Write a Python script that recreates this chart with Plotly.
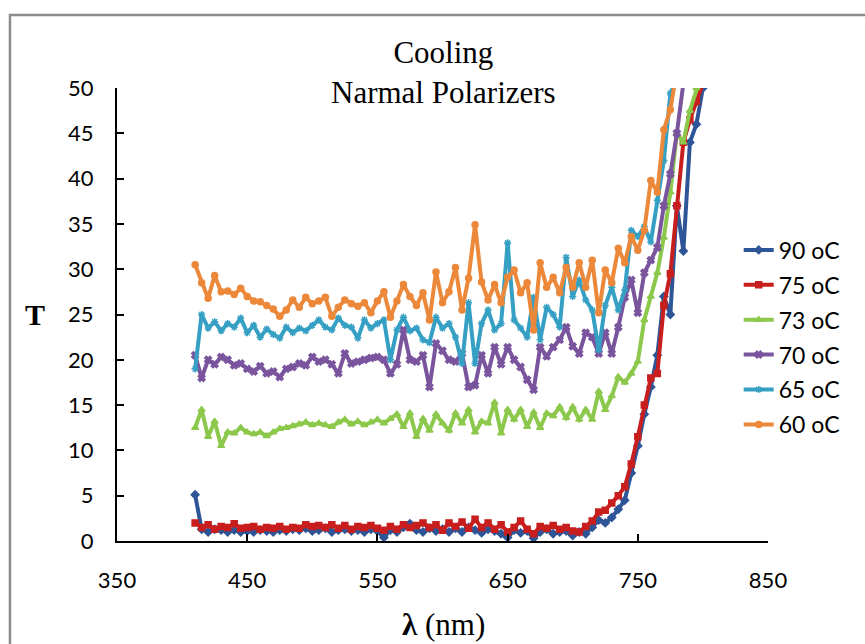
import plotly.graph_objects as go

wavelength = [410, 415, 420, 425, 430, 435, 440, 445, 450, 455, 460, 465, 470, 475, 480, 485, 490, 495,
              500, 505, 510, 515, 520, 525, 530, 535, 540, 545, 550, 555, 560, 565, 570, 575, 580, 585,
              590, 595, 600, 605, 610, 615, 620, 625, 630, 635, 640, 645, 650, 655, 660, 665, 670, 675,
              680, 685, 690, 695, 700, 705, 710, 715, 720, 725, 730, 735, 740, 745, 750, 755, 760, 765,
              770, 775, 780, 785, 790, 795, 800]

t90 = [5.1, 1.3, 1.0, 1.3, 1.2, 1.0, 1.2, 1.0, 1.1, 1.0, 1.2, 1.1, 1.0, 1.2, 1.1, 1.3, 1.2, 1.4,
       1.1, 1.2, 1.4, 1.0, 1.2, 1.3, 1.1, 1.2, 1.0, 1.3, 1.1, 0.4, 1.2, 1.0, 1.5, 1.9, 1.2, 1.0,
       1.4, 1.1, 1.3, 1.0, 1.4, 1.0, 1.5, 1.2, 0.9, 1.3, 1.1, 0.8, 0.4, 1.2, 0.9, 1.1, 0.3, 1.0,
       1.3, 0.8, 1.0, 1.1, 0.6, 1.0, 0.8, 1.5, 2.3, 2.0, 2.6, 3.5, 4.5, 7.5, 10.5, 14.0, 17.0, 20.5,
       27.0, 25.0, 37.0, 32.0, 44.0, 46.0, 50.0]

t75 = [2.0, 1.5, 1.8, 1.3, 1.6, 1.5, 1.9, 1.4, 1.5, 1.6, 1.3, 1.5, 1.4, 1.6, 1.3, 1.5, 1.4, 1.8,
       1.6, 1.7, 1.5, 1.8, 1.4, 1.7, 1.3, 1.6, 1.5, 1.7, 1.4, 1.2, 1.6, 1.3, 1.8, 1.5, 1.7, 2.0,
       1.5, 1.8, 1.2, 2.0, 1.6, 2.1, 1.4, 2.4, 1.5, 2.0, 1.3, 1.8, 1.0, 1.5, 2.2, 1.3, 0.8, 1.6,
       1.4, 1.7, 1.3, 1.5, 1.1, 1.0, 1.6, 2.2, 3.2, 3.4, 4.2, 5.0, 6.0, 8.5, 11.5, 15.0, 18.0, 18.5,
       26.0, 29.5, 37.0, 44.0, 46.5, 48.5, 50.5]

t73 = [12.5, 14.5, 11.5, 13.2, 10.5, 12.0, 11.9, 12.5, 12.0, 11.8, 12.0, 11.6, 12.0, 12.4, 12.5, 12.7, 12.9, 13.1,
       12.8, 13.0, 12.8, 12.6, 13.1, 13.4, 12.9, 13.2, 12.8, 13.1, 13.4, 13.0, 13.5, 14.0, 12.6, 14.1, 11.5, 13.5,
       12.2, 14.0, 13.0, 12.2, 14.1, 13.0, 14.5, 12.0, 13.2, 13.0, 15.3, 11.9, 14.5, 13.4, 14.5, 12.6, 14.2, 12.5,
       14.1, 13.8, 14.8, 13.6, 14.8, 13.4, 14.5, 13.4, 16.5, 14.5, 16.0, 18.1, 17.5, 18.5, 19.8, 24.4, 27.0, 29.6,
       33.5, 38.5, 45.0, 44.0, 47.5, 50.0, 52.0]

t70 = [20.5, 18.0, 20.0, 19.5, 20.3, 20.0, 19.4, 19.6, 19.0, 18.7, 19.3, 18.5, 18.7, 18.1, 19.0, 19.2, 19.6, 19.4,
       20.3, 19.8, 20.0, 19.5, 18.5, 20.7, 19.6, 19.8, 20.0, 20.2, 20.3, 20.0, 18.5, 19.5, 23.3, 20.0, 19.8, 20.5,
       17.0, 21.8, 21.0, 20.0, 19.8, 20.7, 17.0, 17.2, 20.5, 18.5, 21.4, 19.5, 21.4, 20.0, 19.2, 17.8, 16.7, 21.4,
       20.4, 21.4, 22.2, 23.6, 21.5, 20.7, 23.0, 22.5, 20.7, 23.0, 20.7, 23.6, 26.9, 28.8, 25.2, 29.6, 31.0, 32.4,
       37.0, 40.5, 45.0, 50.5]

t65 = [19.0, 25.0, 23.5, 24.2, 23.2, 24.0, 23.6, 24.6, 23.0, 23.8, 22.5, 23.4, 22.8, 22.4, 23.6, 23.0, 23.5, 23.2,
       23.8, 24.4, 23.6, 23.3, 24.6, 23.8, 23.6, 22.4, 24.4, 23.5, 24.0, 24.4, 20.0, 23.3, 24.7, 23.2, 23.5, 22.2,
       21.9, 24.7, 23.5, 24.0, 22.5, 19.6, 26.3, 19.6, 24.0, 25.5, 23.3, 24.0, 32.9, 24.4, 23.5, 22.5, 26.9, 22.2,
       25.8, 25.0, 23.6, 31.3, 27.0, 28.8, 26.6, 25.5, 21.1, 26.0, 28.0, 25.5, 27.7, 34.3, 33.6, 34.7, 33.0, 37.6,
       42.0, 49.4, 51.0]

t60 = [30.5, 28.5, 26.8, 29.3, 27.5, 27.6, 27.2, 27.9, 27.0, 26.5, 26.4, 26.0, 25.6, 24.8, 25.5, 26.6, 25.8, 26.9,
       26.2, 26.5, 26.9, 24.8, 25.8, 26.6, 26.2, 25.9, 26.3, 25.2, 26.5, 27.5, 24.7, 26.5, 28.3, 27.0, 26.0, 27.4,
       24.4, 29.7, 26.3, 27.5, 30.2, 25.5, 29.0, 34.9, 28.6, 26.6, 28.3, 26.3, 29.1, 29.9, 27.4, 28.5, 23.3, 30.7,
       28.0, 29.1, 27.4, 30.2, 28.0, 30.7, 28.0, 31.0, 25.2, 29.9, 28.5, 32.3, 30.7, 33.6, 32.1, 34.3, 39.8, 38.5,
       45.4, 47.6, 52.0, 52.0]

series = [
    ("90 oC", t90, "#2E5597", "diamond"),
    ("75 oC", t75, "#C81E1E", "square"),
    ("73 oC", t73, "#8CC84B", "triangle-up"),
    ("70 oC", t70, "#7A559E", "x"),
    ("65 oC", t65, "#36A0C4", "asterisk"),
    ("60 oC", t60, "#EC883A", "circle"),
]

x_ticks = [350, 450, 550, 650, 750, 850]
y_ticks = [0, 5, 10, 15, 20, 25, 30, 35, 40, 45, 50]

fig = go.Figure()
for i, (name, vals, color, sym) in enumerate(series):
    fig.add_trace(go.Scatter(
        x=wavelength[:len(vals)], y=vals, name=name, mode="lines+markers",
        line=dict(color=color, width=4),
        marker=dict(symbol=sym, size=6, color=color, line=dict(color=color, width=1.5)),
        legendgroup=f"g{i}",
    ))

axis_font = dict(family="Lato, Liberation Sans, sans-serif", size=22, color="#000000")
serif = "Liberation Serif, Times New Roman, serif"

fig.update_layout(
    width=865, height=644,
    margin=dict(l=117, r=97, t=88, b=103),
    paper_bgcolor="white", plot_bgcolor="white",
    showlegend=True,
    legend=dict(x=0.955, y=0.69, xanchor="left", yanchor="top",
                font=dict(family="Lato, Liberation Sans, sans-serif", size=23, color="#000000"),
                tracegroupgap=2, bgcolor="rgba(0,0,0,0)", itemwidth=30),
    xaxis=dict(range=[350, 850], tickvals=x_ticks, ticktext=[str(v) for v in x_ticks],
               showgrid=False, zeroline=False, showline=True, linecolor="#000000", linewidth=2,
               ticks="inside", ticklen=7, tickwidth=2, tickcolor="#000000",
               tickfont=axis_font, ticklabelstandoff=19),
    yaxis=dict(range=[0, 50], tickvals=y_ticks, ticktext=[str(v) for v in y_ticks],
               showgrid=False, zeroline=False, showline=True, linecolor="#000000", linewidth=2,
               ticks="inside", ticklen=7, tickwidth=2, tickcolor="#000000",
               tickfont=axis_font, ticklabelstandoff=17),
    annotations=[
        dict(text="Cooling<br>Narmal Polarizers", x=0.5008, y=1.035, xref="paper", yref="paper",
             xanchor="center", yanchor="middle", showarrow=False,
             font=dict(family=serif, size=31, color="#000000")),
        dict(text="<b>T</b>", x=-0.126, y=0.499, xref="paper", yref="paper",
             xanchor="center", yanchor="middle", showarrow=False,
             font=dict(family=serif, size=30, color="#000000")),
        dict(text="<b>λ</b> (nm)", x=0.5008, y=-0.185, xref="paper", yref="paper",
             xanchor="center", yanchor="middle", showarrow=False,
             font=dict(family=serif, size=31, color="#000000")),
    ],
    shapes=[
        dict(type="rect", xref="paper", yref="paper", x0=-0.1644, y0=-0.4, x1=1.4, y1=1.1611,
             line=dict(color="#8C8C8C", width=2.5), fillcolor="rgba(0,0,0,0)", layer="below"),
    ],
)

fig.write_html("out.html")
